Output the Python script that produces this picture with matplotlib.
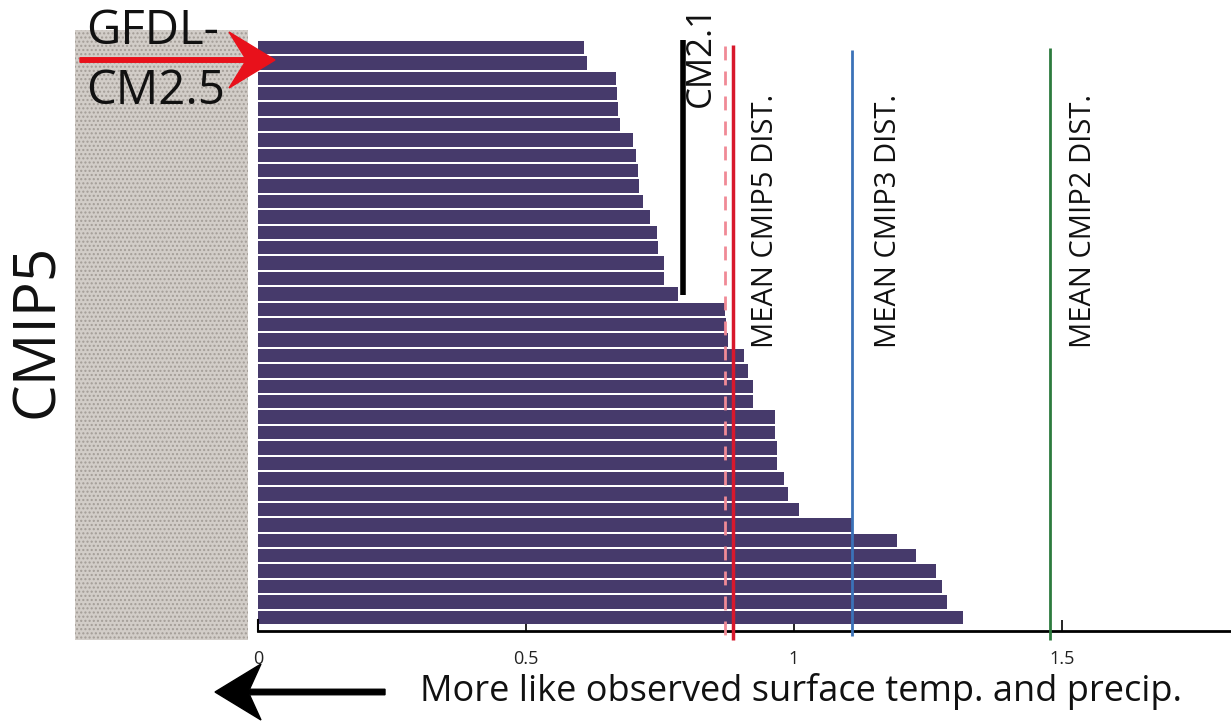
import matplotlib
matplotlib.use("Agg")
import matplotlib.pyplot as plt
from matplotlib.patches import Rectangle, FancyArrow

# model distances (CMIP5 models, sorted)
cmip5_dist = [0.608, 0.614, 0.667, 0.670, 0.672, 0.675, 0.699, 0.706, 0.709,
              0.711, 0.719, 0.731, 0.744, 0.747, 0.757, 0.758, 0.783, 0.871,
              0.873, 0.876, 0.907, 0.915, 0.923, 0.923, 0.965, 0.965, 0.969,
              0.969, 0.981, 0.988, 1.010, 1.108, 1.192, 1.228, 1.265, 1.276,
              1.285, 1.315]
cm21_value = 0.792
mean_cmip5 = 0.887
mean_cmip5_dashed = 0.871
mean_cmip3 = 1.108
mean_cmip2 = 1.478
xtick_vals = [0, 0.5, 1, 1.5]
xtick_labels = ['0', '0.5', '1', '1.5']

plt.rcParams['font.family'] = ['Open Sans', 'DejaVu Sans']

W, H = 1231, 728
fig = plt.figure(figsize=(W / 100, H / 100), dpi=100)

def fx(px):
    return px / W

def fy(py):
    return 1 - py / H

# textured grey panel on the left
panel = Rectangle((fx(75), fy(640)), fx(173), 610 / H, transform=fig.transFigure,
                  facecolor='#d2cdc8', edgecolor='#a39d97', hatch='....', lw=0)
fig.patches.append(panel)

bar_step = 15.4
y_top_px = 47.5
ax_bottom_px = 631
ax = fig.add_axes([fx(258), fy(ax_bottom_px), 1 - fx(258), ax_bottom_px / H])
ax.set_xlim(0, (W - 258) / 536)
ax.set_ylim((ax_bottom_px - y_top_px) / bar_step, -y_top_px / bar_step)

def dy(py):
    return (py - y_top_px) / bar_step

ax.barh(range(len(cmip5_dist)), cmip5_dist, height=0.86, color='#463a6b',
        edgecolor='none', zorder=2)

# reference lines
ax.vlines(cm21_value, dy(40), dy(295), color='black', lw=4, zorder=3)
ax.vlines(mean_cmip5_dashed, dy(46), dy(640), color='#f08a96', lw=2,
          linestyles=(0, (5, 4)), zorder=3, clip_on=False)
ax.vlines(mean_cmip5, dy(45), dy(640), color='#d8182c', lw=2.5, zorder=4, clip_on=False)
ax.vlines(mean_cmip3, dy(50), dy(636), color='#3b72b8', lw=2, zorder=4, clip_on=False)
ax.vlines(mean_cmip2, dy(48), dy(640), color='#2d7b3e', lw=2, zorder=4, clip_on=False)

txt = dict(rotation=90, ha='center', va='bottom', fontsize=21, color='#111111')
ax.text(0.946, dy(348), 'MEAN CMIP5 DIST.', **txt)
ax.text(1.176, dy(348), 'MEAN CMIP3 DIST.', **txt)
ax.text(1.540, dy(348), 'MEAN CMIP2 DIST.', **txt)
ax.text(0.827, dy(107), 'CM2.1', rotation=90, ha='center', va='bottom',
        fontsize=25, color='#111111')

for s in ['top', 'right']:
    ax.spines[s].set_visible(False)
ax.spines['bottom'].set_linewidth(2)
ax.spines['left'].set_linewidth(1.5)
ax.spines['left'].set_bounds(dy(620), dy(ax_bottom_px))
ax.set_yticks([])
ax.set_xticks(xtick_vals)
ax.set_xticklabels(xtick_labels, fontsize=13, color='#222222')
ax.tick_params(axis='x', direction='in', length=8, width=1.2, pad=14)
ax.xaxis.get_ticklines()[6].set_color('#999999')
ax.patch.set_alpha(0)

# left labels
fig.text(fx(38), fy(331), 'CMIP5', rotation=90, ha='center', va='center',
         fontsize=42, color='#111111')
fig.text(fx(86), fy(31), 'GFDL-', ha='left', va='center', fontsize=34, color='#111111')
fig.text(fx(86), fy(91), 'CM2.5', ha='left', va='center', fontsize=34, color='#111111')

# arrows (in inches)
fig.patches.append(FancyArrow(0.80, (H - 60) / 100, 1.95, 0, width=0.045,
                              head_width=0.56, head_length=0.46, overhang=0.35,
                              length_includes_head=True, color='#e8111b',
                              transform=fig.dpi_scale_trans))
fig.patches.append(FancyArrow(3.85, (H - 692) / 100, -1.70, 0, width=0.055,
                              head_width=0.56, head_length=0.46, overhang=0.25,
                              length_includes_head=True, color='black',
                              transform=fig.dpi_scale_trans))

fig.text(fx(420), fy(692), 'More like observed surface temp. and precip.',
         ha='left', va='center', fontsize=26, color='#111111')

fig.savefig('out.png', dpi=100)
